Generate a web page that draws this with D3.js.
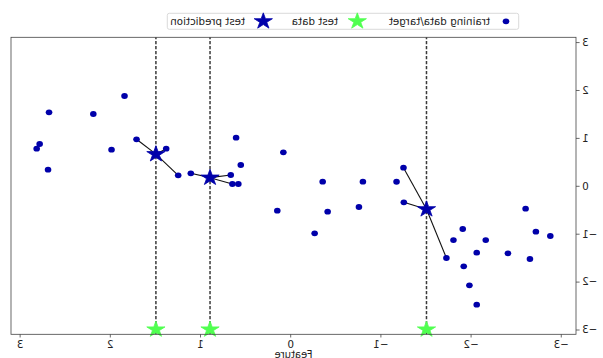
<!DOCTYPE html>
<html><head><meta charset="utf-8">
<script src="https://cdn.jsdelivr.net/npm/d3@7/dist/d3.min.js"></script>
<style>
html,body{margin:0;padding:0;background:#fff;}
svg{display:block;transform:scaleX(-1);}
text{font-family:"DejaVu Sans",sans-serif;}
</style></head><body>
<svg id="chart" width="603" height="358"></svg>
<script>
// training data (feature / target)
const trainX = [2.685, 2.194, 1.848, 2.789, 2.822, 1.992, 2.696, 1.715, 1.386, 1.253,
                1.113, 0.611, 0.087, 0.559, 0.670, 0.652, 0.586, -0.349, -0.795, -1.245,
                -1.168, 0.154, -0.404, -0.751, -0.260, -1.249, -2.599, -1.902, -1.799, -2.157,
                -2.713, -2.873, -2.057, -2.403, -1.721, -2.647, -1.913, -1.976, -2.057];
const trainY = [1.534, 1.499, 1.875, 0.873, 0.775, 0.754, 0.336, 0.971, 0.775, 0.219,
                0.261, 1.004, 0.699, 0.434, 0.225, 0.038, 0.038, 0.086, 0.086, 0.378,
                0.085, -0.520, -0.541, -0.443, -0.992, -0.344, -0.478, -0.902, -1.132, -1.132,
                -0.958, -1.048, -1.397, -1.409, -1.507, -1.528, -1.681, -2.077, -2.482];
const testX = [-1.5, 0.9, 1.5];
const testY = [-3, -3, -3];
const predY = [-0.49, 0.17, 0.66];
const nNeighbors = 3;
const xTicks = [-3, -2, -1, 0, 1, 2, 3];
const yTicks = [-3, -2, -1, 0, 1, 2, 3];
const legendLabels = ["training data/target", "test data", "test prediction"];
const xLabel = "Feature";
const blue = "#0000aa", green = "#50ff50";

const svg = d3.select("#chart");
const L = 27, R = 592, T = 37.3, B = 334.3;

const xmin = d3.min(trainX), xmax = d3.max(trainX), pad = (xmax - xmin) * 0.05;
const x = d3.scaleLinear().domain([xmin - pad, xmax + pad]).range([L, R]);
const y = d3.scaleLinear().domain([-3.1, 3.1]).range([B, T]);

function starPath(Ro, sy) {
  const pts = [];
  for (let i = 0; i < 10; i++) {
    const a = -Math.PI / 2 + i * Math.PI / 5;
    const r = i % 2 === 0 ? Ro : Ro * 0.381966;
    pts.push([r * Math.cos(a), r * Math.sin(a) * sy]);
  }
  return "M" + pts.map(p => p[0].toFixed(2) + "," + p[1].toFixed(2)).join("L") + "Z";
}
const star = starPath(9.6, 0.88);

// arrows (lines to neighbors)
const train = trainX.map((v, i) => ({x: v, y: trainY[i]}));
const gA = svg.append("g");
testX.forEach((tx, k) => {
  const nb = train.slice().sort((a, b) => Math.abs(a.x - tx) - Math.abs(b.x - tx)).slice(0, nNeighbors);
  nb.forEach(n => {
    gA.append("line").attr("x1", x(tx)).attr("y1", y(predY[k]))
      .attr("x2", x(n.x)).attr("y2", y(n.y))
      .attr("stroke", "#111").attr("stroke-width", 1.1);
  });
});

// vlines
svg.append("g").selectAll("line").data(testX).join("line")
  .attr("x1", d => x(d)).attr("x2", d => x(d))
  .attr("y1", y(-3.1)).attr("y2", y(3.1))
  .attr("stroke", "#3a3a3a").attr("stroke-width", 1.5)
  .attr("stroke-dasharray", "3.4,1.6");

// training points
svg.append("g").selectAll("ellipse").data(train).join("ellipse")
  .attr("cx", d => x(d.x)).attr("cy", d => y(d.y))
  .attr("rx", 3.3).attr("ry", 2.9).attr("fill", blue);

// test stars
svg.append("g").selectAll("path").data(testX).join("path")
  .attr("d", star).attr("transform", (d, i) => `translate(${x(d)},${y(testY[i])})`)
  .attr("fill", green).attr("stroke", green).attr("stroke-width", 0.8);

// prediction stars
svg.append("g").selectAll("path").data(testX).join("path")
  .attr("d", star).attr("transform", (d, i) => `translate(${x(d)},${y(predY[i])})`)
  .attr("fill", blue).attr("stroke", blue).attr("stroke-width", 0.8);

// frame
svg.append("rect").attr("x", L).attr("y", T).attr("width", R - L).attr("height", B - T)
  .attr("fill", "none").attr("stroke", "#444").attr("stroke-width", 0.8);

// axes
const fmt = d => d < 0 ? "\u2212" + Math.abs(d) : String(d);
const xAxis = svg.append("g").attr("transform", `translate(0,${B})`)
  .call(d3.axisBottom(x).tickValues(xTicks).tickFormat(fmt).tickSize(3.2).tickPadding(3));
const yAxis = svg.append("g").attr("transform", `translate(${L},0)`)
  .call(d3.axisLeft(y).tickValues(yTicks).tickFormat(fmt).tickSize(3.6).tickPadding(2.5));
[xAxis, yAxis].forEach(g => {
  g.select(".domain").remove();
  g.selectAll(".tick line").attr("stroke", "#444").attr("stroke-width", 0.8);
  g.selectAll(".tick text").attr("fill", "#222").style("font-size", "10.3px")
    .style("font-family", "'DejaVu Sans',sans-serif");
});

svg.append("text").attr("x", (L + R) / 2).attr("y", 357.5).attr("text-anchor", "middle")
  .attr("fill", "#222").style("font-size", "10px").text(xLabel);

// legend
const lg = svg.append("g");
lg.append("rect").attr("x", 84.3).attr("y", 13.3).attr("width", 351.4).attr("height", 16)
  .attr("rx", 2).attr("fill", "#fff").attr("stroke", "#d0d0d0").attr("stroke-width", 0.8);
const ly = 21.3;
lg.append("ellipse").attr("cx", 97).attr("cy", ly).attr("rx", 3.3).attr("ry", 2.9).attr("fill", blue);
lg.append("path").attr("d", star).attr("transform", `translate(245.7,${ly})`)
  .attr("fill", green).attr("stroke", green).attr("stroke-width", 0.8);
lg.append("path").attr("d", star).attr("transform", `translate(339.7,${ly})`)
  .attr("fill", blue).attr("stroke", blue).attr("stroke-width", 0.8);
const lx = [113, 265, 358];
legendLabels.forEach((t, i) => {
  lg.append("text").attr("x", lx[i]).attr("y", ly + 3.7).attr("fill", "#222")
    .style("font-size", "10.3px").text(t);
});
</script>
</body></html>
